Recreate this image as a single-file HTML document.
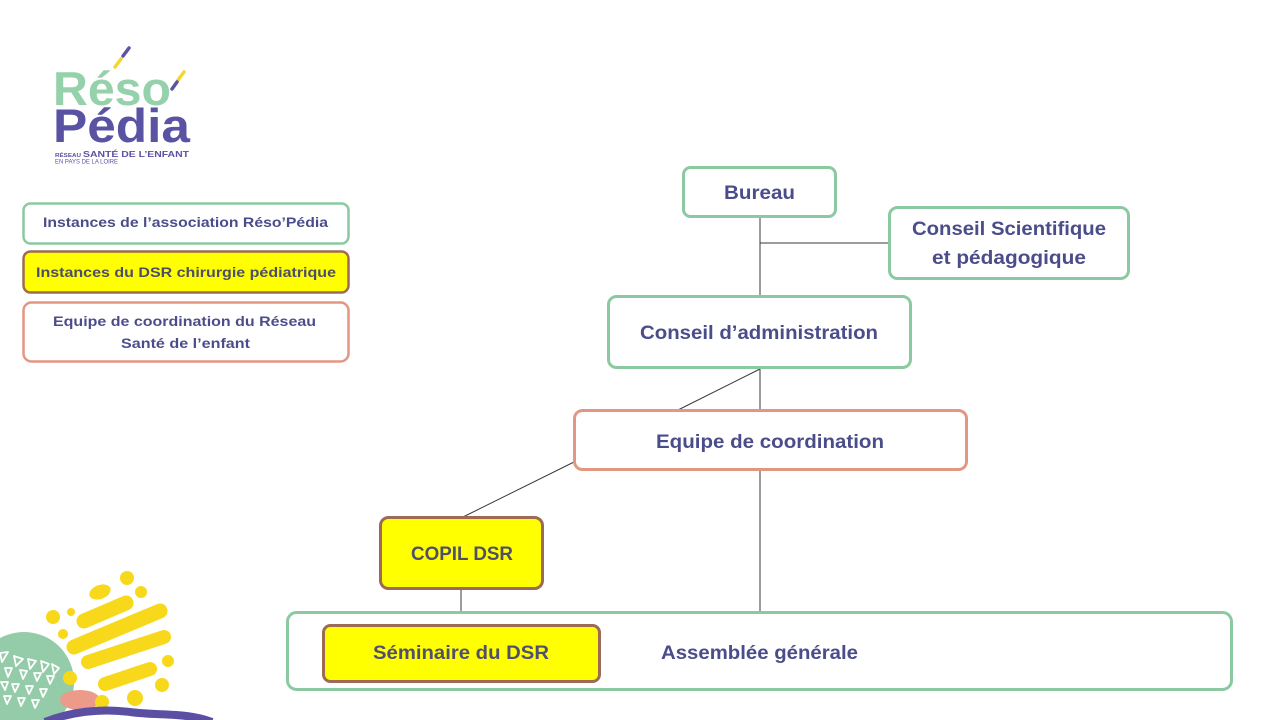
<!DOCTYPE html>
<html>
<head>
<meta charset="utf-8">
<style>
html,body{margin:0;padding:0;background:#fff;}
svg{display:block;}
text{font-family:"Liberation Sans",sans-serif;font-weight:bold;}
</style>
</head>
<body>
<svg width="1280" height="720" viewBox="0 0 1280 720" xmlns="http://www.w3.org/2000/svg">
<rect width="1280" height="720" fill="#fff"/>

<!-- Logo -->
<g>
  <line x1="129" y1="48" x2="123" y2="56" stroke="#5b53a3" stroke-width="3.5" stroke-linecap="round"/>
  <line x1="121" y1="59" x2="115" y2="67" stroke="#f3d631" stroke-width="3.5" stroke-linecap="round"/>
  <line x1="184" y1="72" x2="178" y2="80" stroke="#f3d631" stroke-width="3.5" stroke-linecap="round"/>
  <line x1="177" y1="82" x2="172" y2="89" stroke="#5b53a3" stroke-width="3.5" stroke-linecap="round"/>
  <text x="53" y="105" font-size="47" fill="#95d1aa" textLength="118" lengthAdjust="spacingAndGlyphs">Réso</text>
  <text x="53" y="142" font-size="47" fill="#5a52a2" textLength="137" lengthAdjust="spacingAndGlyphs">Pédia</text>
  <text x="55" y="157" font-size="5.5" fill="#5a52a2" textLength="26" lengthAdjust="spacingAndGlyphs">RÉSEAU</text>
  <text x="83" y="157" font-size="8.5" fill="#5a52a2" textLength="106" lengthAdjust="spacingAndGlyphs">SANTÉ DE L’ENFANT</text>
  <text x="55" y="163.5" font-size="6" fill="#5a52a2" style="font-weight:normal" textLength="63" lengthAdjust="spacingAndGlyphs">EN PAYS DE LA LOIRE</text>
</g>

<!-- Legend -->
<rect x="23.5" y="203.5" width="325" height="40" rx="7" fill="#fff" stroke="#8cc9a1" stroke-width="2.5"/>
<text x="43" y="227" font-size="14" fill="#4b4d8a" textLength="285" lengthAdjust="spacingAndGlyphs">Instances de l’association Réso’Pédia</text>
<rect x="23.5" y="251.5" width="325" height="41" rx="7" fill="#ffff00" stroke="#9c6a55" stroke-width="2.5"/>
<text x="36" y="277" font-size="14" fill="#4b4d6a" textLength="300" lengthAdjust="spacingAndGlyphs">Instances du DSR chirurgie pédiatrique</text>
<rect x="23.5" y="302.5" width="325" height="59" rx="8" fill="#fff" stroke="#e39783" stroke-width="2.5"/>
<text x="53" y="326" font-size="14" fill="#4b4d8a" textLength="263" lengthAdjust="spacingAndGlyphs">Equipe de coordination du Réseau</text>
<text x="121" y="348" font-size="14" fill="#4b4d8a" textLength="129" lengthAdjust="spacingAndGlyphs">Santé de l’enfant</text>

<!-- Connectors -->
<g stroke="#3a3a3a" stroke-width="1" fill="none">
  <line x1="760" y1="217" x2="760" y2="296"/>
  <line x1="760" y1="243" x2="889" y2="243"/>
  <line x1="760" y1="368" x2="760" y2="410"/>
  <line x1="760" y1="369" x2="678" y2="410"/>
  <line x1="574" y1="462" x2="463" y2="517"/>
  <line x1="760" y1="470" x2="760" y2="612"/>
  <line x1="461" y1="589" x2="461" y2="625"/>
</g>

<!-- Nodes -->
<rect x="683.5" y="167.5" width="152" height="49" rx="7" fill="#fff" stroke="#8cc9a1" stroke-width="3"/>
<text x="724" y="199" font-size="19" fill="#4b4d8a" textLength="71" lengthAdjust="spacingAndGlyphs">Bureau</text>

<rect x="889.5" y="207.5" width="239" height="71" rx="8" fill="#fff" stroke="#8cc9a1" stroke-width="3"/>
<text x="912" y="235" font-size="19" fill="#4b4d8a" textLength="194" lengthAdjust="spacingAndGlyphs">Conseil Scientifique</text>
<text x="932" y="264" font-size="19" fill="#4b4d8a" textLength="154" lengthAdjust="spacingAndGlyphs">et pédagogique</text>

<rect x="608.5" y="296.5" width="302" height="71" rx="8" fill="#fff" stroke="#8cc9a1" stroke-width="3"/>
<text x="640" y="339" font-size="19" fill="#4b4d8a" textLength="238" lengthAdjust="spacingAndGlyphs">Conseil d’administration</text>

<rect x="574.5" y="410.5" width="392" height="59" rx="8" fill="#fff" stroke="#e39783" stroke-width="3"/>
<text x="656" y="448" font-size="19" fill="#4b4d8a" textLength="228" lengthAdjust="spacingAndGlyphs">Equipe de coordination</text>

<rect x="380.5" y="517.5" width="162" height="71" rx="8" fill="#ffff00" stroke="#9c6a55" stroke-width="3"/>
<text x="411" y="560" font-size="19" fill="#4f5068" textLength="102" lengthAdjust="spacingAndGlyphs">COPIL DSR</text>

<rect x="287.5" y="612.5" width="944" height="77" rx="9" fill="#fff" stroke="#8cc9a1" stroke-width="3"/>
<rect x="323.5" y="625.5" width="276" height="56" rx="7" fill="#ffff00" stroke="#9c6a55" stroke-width="3"/>
<text x="373" y="659" font-size="19" fill="#4f5070" textLength="176" lengthAdjust="spacingAndGlyphs">Séminaire du DSR</text>
<text x="661" y="659" font-size="19" fill="#4b4d8a" textLength="197" lengthAdjust="spacingAndGlyphs">Assemblée générale</text>

<!-- Decoration bottom-left -->
<g>
  <circle cx="24" cy="682" r="50" fill="#94cba8"/>
  <g fill="none" stroke="#fff" stroke-width="1.8" stroke-linejoin="round">
    <polygon points="0,653 8,652 2,662"/>
    <polygon points="14,656 23,659 16,666"/>
    <polygon points="28,659 36,661 30,669"/>
    <polygon points="41,661 49,664 43,672"/>
    <polygon points="52,664 59,668 54,674"/>
    <polygon points="5,668 12,668 8,677"/>
    <polygon points="20,670 27,671 23,679"/>
    <polygon points="34,673 41,673 37,681"/>
    <polygon points="47,676 54,676 50,684"/>
    <polygon points="1,682 8,682 5,690"/>
    <polygon points="12,684 19,684 15,692"/>
    <polygon points="26,686 33,686 29,694"/>
    <polygon points="40,689 47,689 43,697"/>
    <polygon points="4,696 11,696 7,704"/>
    <polygon points="18,698 25,698 21,706"/>
    <polygon points="32,700 39,700 35,708"/>
  </g>
  <ellipse cx="80" cy="700" rx="20" ry="10" fill="#ec9a8a"/>
  <g fill="#f8d81b">
    <circle cx="127" cy="578" r="7"/>
    <ellipse cx="100" cy="592" rx="11" ry="7" transform="rotate(-20 100 592)"/>
    <circle cx="141" cy="592" r="6"/>
    <circle cx="71" cy="612" r="4"/>
    <circle cx="53" cy="617" r="7"/>
    <circle cx="63" cy="634" r="5"/>
    <circle cx="168" cy="661" r="6"/>
    <circle cx="162" cy="685" r="7"/>
    <circle cx="135" cy="698" r="8"/>
    <circle cx="70" cy="678" r="7"/>
    <circle cx="102" cy="702" r="7"/>
  </g>
  <g stroke="#f8d81b" stroke-linecap="round" fill="none">
    <line x1="84" y1="621" x2="126" y2="603" stroke-width="15"/>
    <line x1="74" y1="647" x2="160" y2="611" stroke-width="15"/>
    <line x1="88" y1="662" x2="164" y2="637" stroke-width="14"/>
    <line x1="105" y1="684" x2="150" y2="669" stroke-width="14"/>
  </g>
  <path d="M45,722 C70,712 100,708 130,712 C160,716 185,712 212,722" stroke="#5a4fa3" stroke-width="8" fill="none"/>
</g>
</svg>
</body>
</html>
